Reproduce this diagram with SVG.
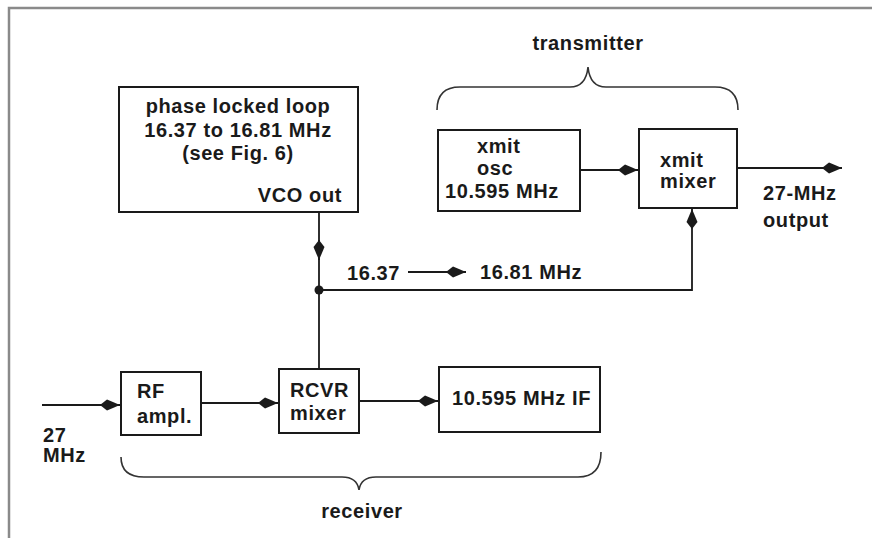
<svg xmlns="http://www.w3.org/2000/svg" width="872" height="538" viewBox="0 0 872 538">
<defs>
<marker id="kite" markerUnits="userSpaceOnUse" markerWidth="24" markerHeight="14" viewBox="-22 -7 24 14" refX="0" refY="0" orient="auto">
<path d="M0,0 L-13,-5.5 L-20,0 L-13,5.5 Z" fill="#1a1a1a"/>
</marker>
<style>
.box{fill:#fff;stroke:#1a1a1a;stroke-width:2}
.ln{fill:none;stroke:#1a1a1a;stroke-width:1.8}
.br{fill:none;stroke:#333;stroke-width:1.6}
.frame{stroke:#8a8a8a;stroke-width:2.5;fill:none}
text{font-family:"Liberation Sans",Arial,sans-serif;font-weight:bold;font-size:20px;fill:#1a1a1a;letter-spacing:0.6px}
.c{text-anchor:middle}
.e{text-anchor:end}
</style>
</defs>
<rect width="872" height="538" fill="#fff"/>
<path class="frame" d="M9,538 V8 H872"/>

<g id="pll">
<rect class="box" x="119" y="87" width="239" height="125"/>
<text class="c" x="238" y="113">phase locked loop</text>
<text class="c" x="238" y="137">16.37 to 16.81 MHz</text>
<text class="c" x="238" y="160">(see Fig. 6)</text>
<text class="e" x="342" y="202">VCO out</text>
</g>

<g id="xmit-osc">
<rect class="box" x="438" y="130" width="142" height="81"/>
<text x="477" y="153">xmit</text>
<text x="477" y="175">osc</text>
<text x="445" y="198">10.595 MHz</text>
</g>

<g id="xmit-mixer">
<rect class="box" x="639" y="129" width="98" height="79"/>
<text x="660" y="167">xmit</text>
<text x="660" y="188">mixer</text>
</g>

<g id="rf-ampl">
<rect class="box" x="121" y="372" width="80" height="63"/>
<text x="137" y="398">RF</text>
<text x="137" y="423">ampl.</text>
</g>

<g id="rcvr-mixer">
<rect class="box" x="279" y="369" width="80" height="64"/>
<text x="290" y="397">RCVR</text>
<text x="290" y="420">mixer</text>
</g>

<g id="if">
<rect class="box" x="439" y="367" width="161" height="65"/>
<text x="452" y="405">10.595 MHz IF</text>
</g>

<g id="transmitter">
<path class="br" d="M437,110 Q437,87 460,87 H570 Q586,87 588,67 Q590,87 606,87 H715 Q738,87 738,110"/>
<text class="c" x="588" y="50">transmitter</text>
</g>

<g id="receiver">
<path class="br" d="M121,457 Q121,477 144,477 H342 Q357,477 359,490 Q361,477 376,477 H578 Q601,477 601,452"/>
<text class="c" x="362" y="518">receiver</text>
</g>

<g id="labels">
<text x="43" y="442">27</text>
<text x="43" y="462">MHz</text>
<text x="763" y="200">27-MHz</text>
<text x="763" y="227">output</text>
<text x="347" y="280">16.37</text>
<text x="480" y="279">16.81 MHz</text>
</g>

<g id="connectors">
<line class="ln" x1="42" y1="405" x2="120" y2="405" marker-end="url(#kite)"/>
<line class="ln" x1="201" y1="403" x2="278" y2="403" marker-end="url(#kite)"/>
<line class="ln" x1="359" y1="401" x2="438" y2="401" marker-end="url(#kite)"/>
<line class="ln" x1="580" y1="170" x2="638" y2="170" marker-end="url(#kite)"/>
<line class="ln" x1="737" y1="168" x2="842" y2="168" marker-end="url(#kite)"/>
<line class="ln" x1="319" y1="212" x2="319" y2="369"/>
<line class="ln" x1="319" y1="240" x2="319" y2="260" marker-end="url(#kite)"/>
<circle cx="319" cy="290" r="4.5" fill="#1a1a1a"/>
<path class="ln" d="M319,290 H692 V209" marker-end="url(#kite)"/>
<line class="ln" x1="408" y1="272" x2="466" y2="272" stroke-width="1.4" marker-end="url(#kite)"/>
</g>
</svg>
